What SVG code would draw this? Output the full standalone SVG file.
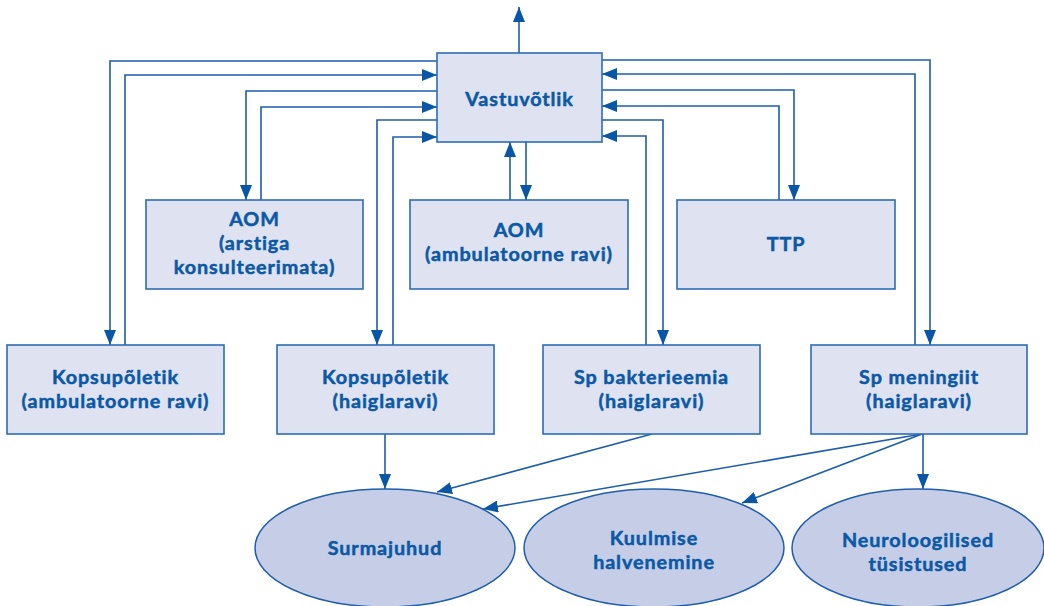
<svg xmlns="http://www.w3.org/2000/svg" width="1044" height="606" viewBox="0 0 1044 606">
<style>
.box{fill:#dfe3f1;stroke:#2d6db4;stroke-width:1.6}
.ell{fill:#c6cee7;stroke:#1f5ea9;stroke-width:1.5}
.t{font-family:Lato,"Open Sans",sans-serif;font-weight:bold;font-size:19.8px;letter-spacing:0.9px;fill:#0b58a6;stroke:#0b58a6;stroke-width:0.5;text-anchor:middle}
.c{fill:none;stroke:#1c5ea9;stroke-width:1.6}
</style>
<defs>
<marker id="ah" markerUnits="userSpaceOnUse" markerWidth="15" markerHeight="12" refX="15" refY="6" orient="auto">
<path d="M0,0 L15,6 L0,12 z" fill="#0a56a6"/>
</marker>
</defs>
<rect width="1044" height="606" fill="#ffffff"/>
<g id="connectors">
<path class="c" d="M519,53 V7" marker-end="url(#ah)"/>
<path class="c" d="M437,61 H110 V345" marker-end="url(#ah)"/>
<path class="c" d="M125,345 V75 H437" marker-end="url(#ah)"/>
<path class="c" d="M437,91 H246 V200" marker-end="url(#ah)"/>
<path class="c" d="M261,200 V107 H437" marker-end="url(#ah)"/>
<path class="c" d="M437,120 H377 V345" marker-end="url(#ah)"/>
<path class="c" d="M393,345 V137 H437" marker-end="url(#ah)"/>
<path class="c" d="M602,60 H930 V345" marker-end="url(#ah)"/>
<path class="c" d="M915,345 V74 H602" marker-end="url(#ah)"/>
<path class="c" d="M602,90 H794 V200" marker-end="url(#ah)"/>
<path class="c" d="M779,200 V106 H602" marker-end="url(#ah)"/>
<path class="c" d="M602,120 H663 V345" marker-end="url(#ah)"/>
<path class="c" d="M646,345 V136 H602" marker-end="url(#ah)"/>
<path class="c" d="M526,142 V200" marker-end="url(#ah)"/>
<path class="c" d="M510,200 V142" marker-end="url(#ah)"/>
<path class="c" d="M385,434 V489" marker-end="url(#ah)"/>
<path class="c" d="M652,434 L437,492" marker-end="url(#ah)"/>
<path class="c" d="M922,434 L483,509" marker-end="url(#ah)"/>
<path class="c" d="M922,434 L742,503" marker-end="url(#ah)"/>
<path class="c" d="M923,434 V489" marker-end="url(#ah)"/>
</g>
<g id="vastuvotlik">
<rect class="box" x="437" y="53" width="165" height="89"/>
<text class="t" x="519.5" y="106">Vastuvõtlik</text>
</g>
<g id="aom-arstiga">
<rect class="box" x="146" y="200" width="217" height="89"/>
<text class="t" x="254.5" y="226">AOM</text>
<text class="t" x="254.5" y="250">(arstiga</text>
<text class="t" x="254.5" y="274">konsulteerimata)</text>
</g>
<g id="aom-amb">
<rect class="box" x="410" y="200" width="218" height="89"/>
<text class="t" x="519" y="237">AOM</text>
<text class="t" x="519" y="261">(ambulatoorne ravi)</text>
</g>
<g id="ttp">
<rect class="box" x="677" y="200" width="218" height="89"/>
<text class="t" x="786" y="251">TTP</text>
</g>
<g id="kops-amb">
<rect class="box" x="7" y="345" width="217" height="89"/>
<text class="t" x="115.5" y="384">Kopsupõletik</text>
<text class="t" x="115.5" y="408">(ambulatoorne ravi)</text>
</g>
<g id="kops-haigla">
<rect class="box" x="277" y="345" width="217" height="89"/>
<text class="t" x="385.5" y="384">Kopsupõletik</text>
<text class="t" x="385.5" y="408">(haiglaravi)</text>
</g>
<g id="sp-bakt">
<rect class="box" x="543" y="345" width="217" height="89"/>
<text class="t" x="651.5" y="384">Sp bakterieemia</text>
<text class="t" x="651.5" y="408">(haiglaravi)</text>
</g>
<g id="sp-men">
<rect class="box" x="811" y="345" width="216" height="89"/>
<text class="t" x="919" y="384">Sp meningiit</text>
<text class="t" x="919" y="408">(haiglaravi)</text>
</g>
<g id="surmajuhud">
<ellipse class="ell" cx="385" cy="548" rx="130" ry="59"/>
<text class="t" x="385" y="555">Surmajuhud</text>
</g>
<g id="kuulmise">
<ellipse class="ell" cx="654" cy="548" rx="130" ry="59"/>
<text class="t" x="654" y="545">Kuulmise</text>
<text class="t" x="654" y="569">halvenemine</text>
</g>
<g id="neuro">
<ellipse class="ell" cx="918" cy="548" rx="126" ry="59"/>
<text class="t" x="918" y="547">Neuroloogilised</text>
<text class="t" x="918" y="571">tüsistused</text>
</g>
</svg>
